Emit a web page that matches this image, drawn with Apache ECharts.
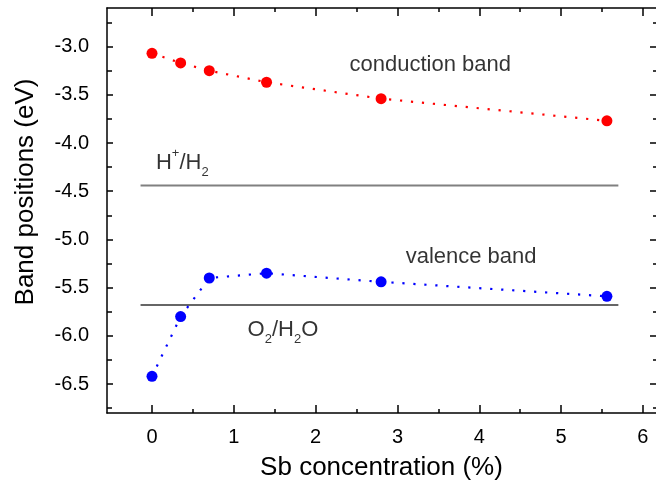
<!DOCTYPE html>
<html>
<head>
<meta charset="utf-8">
<script src="https://cdn.jsdelivr.net/npm/echarts@6/dist/echarts.min.js"></script>
<style>html,body{margin:0;padding:0;background:#fff}#c{width:656px;height:487px}</style>
</head>
<body>
<div id="c"></div>
<script>
// ---- data ----
const sbConcentration = [0, 0.35, 0.7, 1.4, 2.8, 5.56];
const conductionBand = [-3.07, -3.17, -3.25, -3.37, -3.54, -3.77];
const valenceBand = [-6.42, -5.80, -5.40, -5.35, -5.44, -5.59];
const refLineX = [-0.14, 5.70];
const hPotential = -4.44;   // H+/H2
const oPotential = -5.68;   // O2/H2O
const xMajorTicks = [0, 1, 2, 3, 4, 5, 6];
const xMinorTicks = [0.5, 1.5, 2.5, 3.5, 4.5, 5.5];
const yMajorTicks = [-6.5, -6.0, -5.5, -5.0, -4.5, -4.0, -3.5, -3.0];
const yMinorTicks = [-6.75, -6.25, -5.75, -5.25, -4.75, -4.25, -3.75, -3.25, -2.75];
const annotations = [
  { text: 'conduction band', x: 3.40, y: -3.19 },
  { text: 'valence band', x: 3.90, y: -5.185 },
  { text: '{b|H}{sup|+}{b|/H}{sub|2}', x: 0.37, y: -4.21 },
  { text: '{b|O}{sub|2}{b|/H}{sub|2}{b|O}', x: 1.60, y: -5.94 }
];

const FONT = '"Liberation Sans", Arial, Helvetica, sans-serif';
const chart = echarts.init(document.getElementById('c'), null, { renderer: 'canvas' });

const XMIN = -0.55, XMAX = 6.16, YMIN = -6.8, YMAX = -2.6;
function axisBase(extra) {
  return Object.assign({
    type: 'value', gridIndex: 0,
    splitLine: { show: false },
    axisLine: { show: false, onZero: false, lineStyle: { color: '#000', width: 1.5 } },
    axisLabel: { show: false },
    axisTick: { show: false }
  }, extra);
}
const xAxes = [
  axisBase({ position: 'bottom', min: XMIN, max: XMAX,
    axisLine: { show: true, onZero: false, lineStyle: { color: '#000', width: 1.5 } },
    axisTick: { show: true, inside: true, length: 8, customValues: xMajorTicks, lineStyle: { color: '#000', width: 1.5 } },
    axisLabel: { show: true, customValues: xMajorTicks, margin: 14, fontSize: 20, color: '#000', fontFamily: FONT, formatter: v => String(v) },
    name: 'Sb concentration (%)', nameLocation: 'middle', nameGap: 42,
    nameTextStyle: { fontSize: 26, color: '#000', fontFamily: FONT }
  }),
  axisBase({ position: 'bottom', min: XMIN, max: XMAX,
    axisTick: { show: true, inside: true, length: 4, customValues: xMinorTicks, lineStyle: { color: '#000', width: 1.5 } } }),
  axisBase({ position: 'top', min: XMIN, max: XMAX,
    axisLine: { show: true, onZero: false, lineStyle: { color: '#000', width: 1.5 } },
    axisTick: { show: true, inside: true, length: 8, customValues: xMajorTicks, lineStyle: { color: '#000', width: 1.5 } } }),
  axisBase({ position: 'top', min: XMIN, max: XMAX,
    axisTick: { show: true, inside: true, length: 4, customValues: xMinorTicks, lineStyle: { color: '#000', width: 1.5 } } })
];
const yAxes = [
  axisBase({ position: 'left', min: YMIN, max: YMAX,
    axisLine: { show: true, onZero: false, lineStyle: { color: '#000', width: 1.5 } },
    axisTick: { show: true, inside: true, length: 6, customValues: yMajorTicks, lineStyle: { color: '#000', width: 1.5 } },
    axisLabel: { show: true, customValues: yMajorTicks, margin: 18, fontSize: 20, color: '#000', fontFamily: FONT, formatter: v => v.toFixed(1) } }),
  axisBase({ position: 'left', min: YMIN, max: YMAX,
    axisTick: { show: true, inside: true, length: 5, customValues: yMinorTicks, lineStyle: { color: '#000', width: 1.5 } } }),
  axisBase({ position: 'right', min: YMIN, max: YMAX,
    axisTick: { show: true, inside: true, length: 6, customValues: yMajorTicks, lineStyle: { color: '#000', width: 1.5 } } }),
  axisBase({ position: 'right', min: YMIN, max: YMAX,
    axisTick: { show: true, inside: true, length: 3, customValues: yMinorTicks, lineStyle: { color: '#000', width: 1.5 } } })
];

const annoSeries = {
  type: 'scatter', xAxisIndex: 0, yAxisIndex: 0, symbolSize: 0, silent: true, z: 5,
  data: annotations.map(a => ({
    value: [a.x, a.y],
    label: {
      show: true, position: 'inside', formatter: a.text, color: '#000', fontFamily: FONT,
      fontSize: 22,
      rich: {
        b: { fontSize: 22, lineHeight: 32, color: '#000', fontFamily: FONT },
        sup: { fontSize: 13, lineHeight: 17, verticalAlign: 'top', color: '#000', fontFamily: FONT },
        sub: { fontSize: 13, lineHeight: 13, verticalAlign: 'bottom', color: '#000', fontFamily: FONT }
      }
    }
  }))
};

chart.setOption({
  animation: false,
  backgroundColor: '#fff',
  grid: { left: 107, right: 0, top: 8, bottom: 74, containLabel: false },
  xAxis: xAxes,
  yAxis: yAxes,
  graphic: [{
    type: 'text', x: 26, y: 192, rotation: Math.PI / 2,
    style: { text: 'Band positions (eV)', fontSize: 26, fontFamily: FONT, fill: '#000', align: 'center', verticalAlign: 'middle' }
  }],
  series: [
    { type: 'line', name: 'H+/H2', xAxisIndex: 0, yAxisIndex: 0, symbol: 'none', z: 1,
      data: refLineX.map(x => [x, hPotential]), lineStyle: { color: '#808080', width: 2 } },
    { type: 'line', name: 'O2/H2O', xAxisIndex: 0, yAxisIndex: 0, symbol: 'none', z: 1,
      data: refLineX.map(x => [x, oPotential]), lineStyle: { color: '#333', width: 1.3 } },
    { type: 'line', name: 'conduction band', xAxisIndex: 0, yAxisIndex: 0, symbol: 'circle', symbolSize: 11, z: 3,
      data: sbConcentration.map((x, i) => [x, conductionBand[i]]),
      itemStyle: { color: '#ff0000' }, lineStyle: { color: '#ff0000', width: 2.2, type: [2.2, 8.8] } },
    { type: 'line', name: 'valence band', xAxisIndex: 0, yAxisIndex: 0, symbol: 'circle', symbolSize: 11, z: 3,
      data: sbConcentration.map((x, i) => [x, valenceBand[i]]),
      itemStyle: { color: '#0000ff' }, lineStyle: { color: '#0000ff', width: 2.2, type: [2.2, 8.8] } },
    annoSeries
  ]
});
</script>
</body>
</html>
